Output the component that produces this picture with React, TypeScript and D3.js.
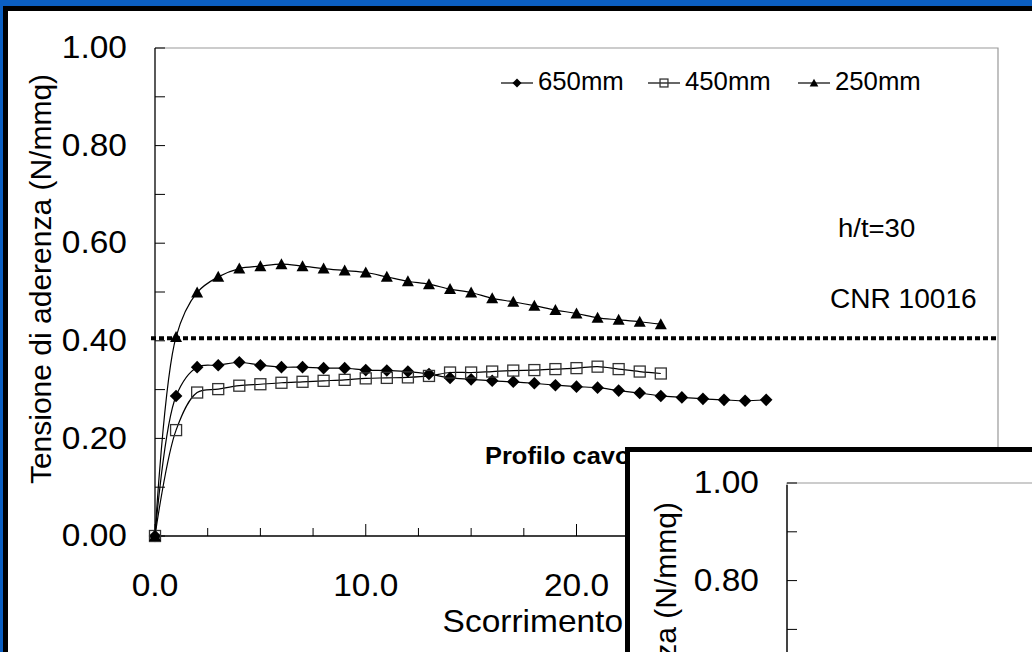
import React from "react";
import * as d3 from "d3";

// slip (mm) and bond stress (N/mmq)
const slip650 = [0, 1, 2, 3, 4, 5, 6, 7, 8, 9, 10, 11, 12, 13, 14, 15, 16, 17, 18, 19, 20, 21, 22, 23, 24, 25, 26, 27, 28, 29];
const tau650 = [0, 0.287, 0.346, 0.35, 0.356, 0.35, 0.346, 0.346, 0.344, 0.344, 0.34, 0.339, 0.337, 0.332, 0.324, 0.321, 0.318, 0.316, 0.313, 0.309, 0.306, 0.304, 0.298, 0.293, 0.287, 0.284, 0.281, 0.279, 0.277, 0.279];

const slip450 = [0, 1, 2, 3, 4, 5, 6, 7, 8, 9, 10, 11, 12, 13, 14, 15, 16, 17, 18, 19, 20, 21, 22, 23, 24];
const tau450 = [0, 0.217, 0.294, 0.301, 0.308, 0.311, 0.314, 0.316, 0.318, 0.32, 0.323, 0.324, 0.325, 0.328, 0.335, 0.335, 0.337, 0.339, 0.34, 0.342, 0.344, 0.347, 0.342, 0.337, 0.333];

const slip250 = [0, 1, 2, 3, 4, 5, 6, 7, 8, 9, 10, 11, 12, 13, 14, 15, 16, 17, 18, 19, 20, 21, 22, 23, 24];
const tau250 = [0, 0.408, 0.499, 0.531, 0.548, 0.553, 0.557, 0.553, 0.548, 0.544, 0.54, 0.531, 0.522, 0.516, 0.506, 0.499, 0.487, 0.48, 0.472, 0.463, 0.456, 0.447, 0.443, 0.439, 0.434];

const cnrLimit = 0.405;
const seriesNames = ["650mm", "450mm", "250mm"];
const xTickValues = [0, 10, 20, 30, 40];
const yTickValues = [0, 0.2, 0.4, 0.6, 0.8, 1.0];
const y2TickValues = [0.8, 1.0];

const font = "'Liberation Sans', Arial, sans-serif";
const SX = 1.08; // the slide text is slightly stretched horizontally

const diamond = "M0,-6.3L6.3,0L0,6.3L-6.3,0Z";
const triangle = "M0,-6L6,5L-6,5Z";

function Marker({ kind, x, y, s = 1 }: { kind: string; x: number; y: number; s?: number }) {
  if (kind === "diamond")
    return <path d={diamond} transform={`translate(${x},${y}) scale(${s})`} fill="#000" />;
  if (kind === "triangle")
    return <path d={triangle} transform={`translate(${x},${y}) scale(${s})`} fill="#000" />;
  return (
    <rect x={x - 5.5 * s} y={y - 5.5 * s} width={11 * s} height={11 * s} fill="none" stroke="#333" strokeWidth={1.3} />
  );
}

function T(props: {
  x: number;
  y: number;
  size: number;
  anchor?: string;
  middle?: boolean;
  bold?: boolean;
  sx?: number;
  children: React.ReactNode;
}) {
  const { x, y, size, anchor = "start", middle, bold, sx = SX, children } = props;
  return (
    <text
      transform={`translate(${x},${y}) scale(${sx},1)`}
      textAnchor={anchor}
      dominantBaseline={middle ? "middle" : "auto"}
      fontSize={size}
      fontWeight={bold ? "bold" : "normal"}
    >
      {children}
    </text>
  );
}

export default function App() {
  const x = d3.scaleLinear().domain([0, 40]).range([155, 998]);
  const y = d3.scaleLinear().domain([0, 1]).range([536, 48]);
  const line = d3
    .line<[number, number]>()
    .x((d) => x(d[0]))
    .y((d) => y(d[1]))
    .curve(d3.curveCatmullRom.alpha(0.5));

  const series = [
    { kind: "diamond", pts: slip650.map((s, i) => [s, tau650[i]] as [number, number]) },
    { kind: "square", pts: slip450.map((s, i) => [s, tau450[i]] as [number, number]) },
    { kind: "triangle", pts: slip250.map((s, i) => [s, tau250[i]] as [number, number]) },
  ];

  const yMinor = y.ticks(10);
  const xMinor = d3.range(0, 40.01, 2.5);
  const fmtY = d3.format(".2f");
  const fmtX = d3.format(".1f");

  // second (overlapping) chart, only its top-left corner is visible
  const y2 = d3.scaleLinear().domain([0, 1]).range([971, 483]);
  const x2Left = 787;

  const legendX = [501, 648, 798];

  return (
    <svg
      width={1032}
      height={652}
      style={{ position: "fixed", left: 0, top: 0 }}
      fontFamily={font}
    >
      <rect x={0} y={0} width={1032} height={652} fill="#0b5fc2" />
      <rect x={5.5} y={8.5} width={1040} height={660} fill="#fff" stroke="#000" strokeWidth={5} />

      {/* plot frame */}
      <path d={`M${x(0)},${y(1)}H${x(40)}V${y(0)}`} fill="none" stroke="#999" strokeWidth={1.2} />

      {/* y axis */}
      <line x1={x(0)} x2={x(0)} y1={y(0)} y2={y(1)} stroke="#000" strokeWidth={1.3} />
      {yMinor.map((t) => (
        <line key={"ym" + t} x1={x(0)} x2={x(0) + 10} y1={y(t)} y2={y(t)} stroke="#000" strokeWidth={1} />
      ))}
      {yTickValues.map((t) => (
        <T key={"yl" + t} x={127} y={y(t) + 2} anchor="end" middle size={31}>
          {fmtY(t)}
        </T>
      ))}
      <text transform={`translate(51,279) rotate(-90)`} textAnchor="middle" fontSize={30}>
        Tensione di aderenza (N/mmq)
      </text>

      {/* x axis */}
      <line x1={x(0)} x2={x(40)} y1={y(0)} y2={y(0)} stroke="#000" strokeWidth={1.3} />
      {xMinor.map((t) => (
        <line
          key={"xm" + t}
          x1={x(t)}
          x2={x(t)}
          y1={y(0)}
          y2={y(0) - (t % 10 === 0 ? 12 : 8)}
          stroke="#000"
          strokeWidth={1}
        />
      ))}
      {xTickValues.map((t) => (
        <T key={"xl" + t} x={x(t)} y={596} anchor="middle" size={31}>
          {fmtX(t)}
        </T>
      ))}
      <T x={(x(0) + x(40)) / 2} y={632} anchor="middle" size={31}>
        Scorrimento (mm)
      </T>

      {/* CNR 10016 limit */}
      <line
        x1={x(0) - 4}
        x2={x(40)}
        y1={y(cnrLimit)}
        y2={y(cnrLimit)}
        stroke="#000"
        strokeWidth={4}
        strokeDasharray="5,3"
      />

      {/* series */}
      {series.map((s) => (
        <g key={s.kind}>
          <path d={line(s.pts) || ""} fill="none" stroke="#000" strokeWidth={1.2} />
          {s.pts.map((p, i) => (
            <Marker key={i} kind={s.kind} x={x(p[0])} y={y(p[1])} />
          ))}
        </g>
      ))}

      {/* legend */}
      {series.map((s, i) => (
        <g key={"lg" + i}>
          <line x1={legendX[i]} x2={legendX[i] + 32} y1={83} y2={83} stroke="#000" strokeWidth={1.2} />
          <Marker kind={s.kind} x={legendX[i] + 16} y={83} s={0.72} />
          <T x={legendX[i] + 37} y={83} middle size={25} sx={1.03}>
            {seriesNames[i]}
          </T>
        </g>
      ))}

      <T x={838} y={237} size={25} sx={1.1}>h/t=30</T>
      <T x={830} y={308} size={27} sx={1.04}>CNR 10016</T>
      <T x={485} y={464} size={24} bold sx={1.06}>Profilo cavo</T>

      {/* overlapping second chart */}
      <rect x={627.5} y={449.5} width={420} height={220} fill="#fff" stroke="#000" strokeWidth={5} />
      <path d={`M${x2Left},${y2(0)}V${y2(1)}H1040`} fill="none" stroke="#999" strokeWidth={1.2} />
      <line x1={x2Left} x2={x2Left} y1={y2(0)} y2={y2(1) + 2} stroke="#000" strokeWidth={1.3} />
      {y2.ticks(10).map((t) => (
        <line key={"y2m" + t} x1={x2Left} x2={x2Left + 10} y1={y2(t)} y2={y2(t)} stroke="#000" strokeWidth={1} />
      ))}
      {y2TickValues.map((t) => (
        <T key={"y2l" + t} x={759} y={y2(t) + 2} anchor="end" middle size={31}>
          {fmtY(t)}
        </T>
      ))}
      <text transform={`translate(676,502) rotate(-90)`} textAnchor="end" fontSize={30}>
        Tensione di aderenza (N/mmq)
      </text>
    </svg>
  );
}
